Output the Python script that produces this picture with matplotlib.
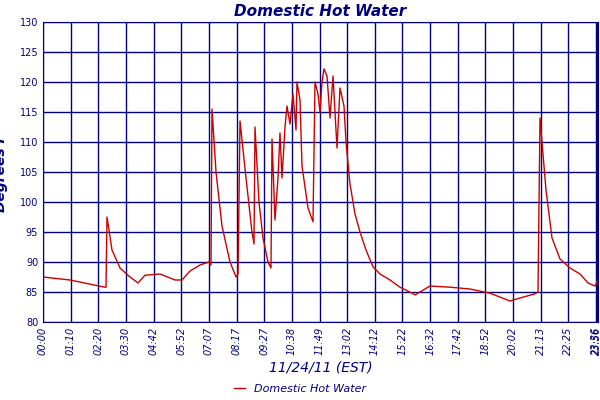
import matplotlib
matplotlib.use("Agg")
import matplotlib.pyplot as plt
import numpy as np

# pixel-read data converted to minutes since midnight
px = [43,70,99,105,106,107,112,120,130,138,145,160,175,182,190,200,209,211,212,216,222,230,236,238,240,246,252,254,255,259,263,268,271,272,275,278,280,282,285,287,290,293,296,297,300,302,308,313,315,318,320,322,324,327,330,333,337,340,344,346,350,355,360,366,373,380,390,400,412,415,430,450,470,490,510,520,535,538,540,546,552,560,570,580,588,595,598]
temps = [87.5,87,86,85.8,85.8,97.5,92,89,87.5,86.5,87.8,88,87,87,88.5,89.5,90,89.5,115.5,105,96,90,87.5,88,113.5,104,95,93,112.5,100,94,90,89,110.5,97,104,111.5,104,112.5,116,113,118,112,120,117,106,99,96.7,120,118,115,120,122.2,121,114,121,109,119,116,110,103,98,95,92,89.2,88,87,85.8,84.8,84.5,86,85.8,85.5,84.8,83.5,84,84.7,85,114,102,94,90.5,89,88,86.5,86,87]
minutes = [(p - 43) / (555 / 1440) for p in px]

tick_labels = ["00:00","01:10","02:20","03:30","04:42","05:52","07:07","08:17","09:27","10:38","11:49","13:02","14:12","15:22","16:32","17:42","18:52","20:02","21:13","22:25","23:36","23:56"]
tick_pos = [i * 27.65 * 1440 / 555 for i in range(21)] + [1437]

navy = "#000080"
fig = plt.figure(figsize=(6, 4), dpi=100)
ax = fig.add_axes([43/600, 1-322/400, 555/600, 300/400])
ax.plot(minutes, temps, color="#CC0000", lw=1, label="Domestic Hot Water")
ax.set_xlim(0, 1440)
ax.set_ylim(80, 130)
ax.set_yticks(range(80, 131, 5))
ax.set_xticks(tick_pos)
ax.set_xticklabels(tick_labels, rotation=90, fontsize=7, color=navy, style="italic")
ax.tick_params(axis="y", labelsize=7, colors=navy, length=0)
ax.tick_params(axis="x", colors=navy, length=0)
ax.grid(True, color=navy, lw=1)
for s in ax.spines.values():
    s.set_color(navy)
ax.set_title("Domestic Hot Water", color=navy, fontsize=11, fontweight="bold", style="italic", pad=4)
ax.set_ylabel("Degrees F", color=navy, fontsize=10, fontweight="bold", style="italic", labelpad=8)
ax.set_xlabel("11/24/11 (EST)", color=navy, fontsize=10, style="italic")
fig.legend(loc="lower center", bbox_to_anchor=(0.5, -0.01), frameon=False,
           prop={"size": 8, "style": "italic"}, labelcolor=navy, handlelength=1)
fig.savefig("out.png", dpi=100)
